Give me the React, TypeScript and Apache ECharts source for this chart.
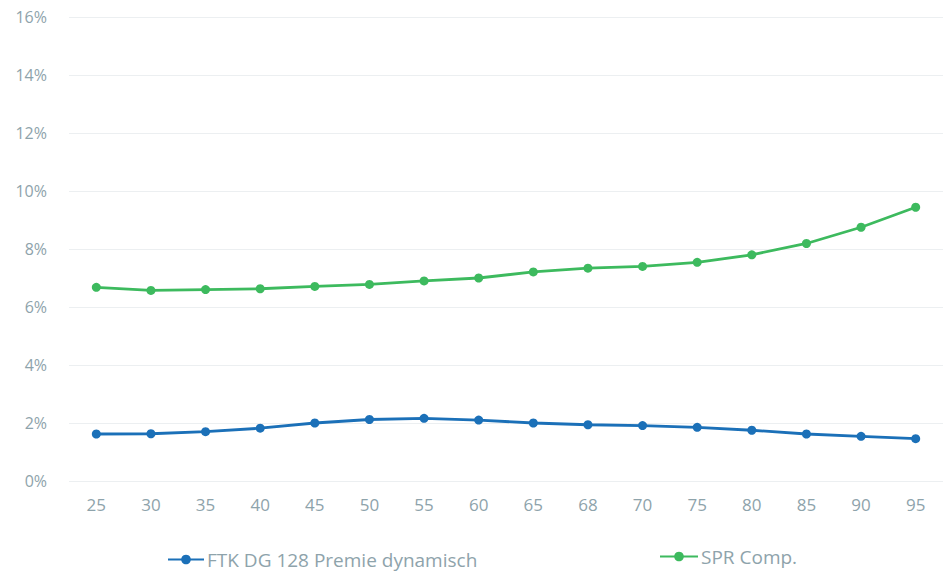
import React, { useEffect, useRef } from "react";
import * as echarts from "echarts";

const ages = ["25", "30", "35", "40", "45", "50", "55", "60", "65", "68", "70", "75", "80", "85", "90", "95"];
const ftkValues = [1.62, 1.63, 1.7, 1.82, 2.0, 2.12, 2.16, 2.1, 2.0, 1.94, 1.91, 1.85, 1.75, 1.62, 1.54, 1.46];
const sprValues = [6.68, 6.57, 6.6, 6.63, 6.71, 6.78, 6.9, 7.0, 7.21, 7.34, 7.4, 7.54, 7.8, 8.19, 8.75, 9.44];
const seriesNames = ["FTK DG 128 Premie dynamisch", "SPR Comp."];

const BLUE = "#1b70b8";
const GREEN = "#3dba5e";
const LABEL = "#8ea3ab";
const FONT = "'Open Sans', Lato, sans-serif";

export default function App() {
  const ref = useRef<HTMLDivElement>(null);

  useEffect(() => {
    if (!ref.current) return;
    const chart = echarts.init(ref.current, undefined, { renderer: "svg" });
    chart.setOption({
      animation: false,
      backgroundColor: "#ffffff",
      textStyle: { fontFamily: FONT },
      grid: { left: 69, top: 17, width: 876, height: 464, containLabel: false },
      legend: [
        {
          data: [seriesNames[0]],
          left: 162,
          top: 545,
          itemWidth: 36,
          itemHeight: 12,
          itemGap: 4,
          textStyle: { color: LABEL, fontSize: 19, fontFamily: FONT, padding: [0, 0, 0, -2] },
        },
        {
          data: [seriesNames[1]],
          left: 654,
          top: 542,
          itemWidth: 38,
          itemHeight: 12,
          textStyle: { color: LABEL, fontSize: 19, fontFamily: FONT, padding: [0, 0, 0, -2] },
        },
      ],
      xAxis: {
        type: "category",
        data: ages,
        boundaryGap: true,
        axisLine: { show: false },
        axisTick: { show: false },
        axisLabel: { color: LABEL, fontSize: 17, margin: 15, fontFamily: FONT },
      },
      yAxis: {
        type: "value",
        min: 0,
        max: 16,
        interval: 2,
        axisLine: { show: false },
        axisTick: { show: false },
        axisLabel: {
          color: LABEL,
          fontSize: 16,
          margin: 22,
          fontFamily: FONT,
          formatter: (v: number) => `${v}%`,
        },
        splitLine: { lineStyle: { color: "#eceff1", width: 1 } },
      },
      series: [
        {
          name: seriesNames[0],
          type: "line",
          data: ftkValues,
          symbol: "circle",
          symbolSize: 9,
          lineStyle: { color: BLUE, width: 2.8 },
          itemStyle: { color: BLUE },
        },
        {
          name: seriesNames[1],
          type: "line",
          data: sprValues,
          symbol: "circle",
          symbolSize: 9,
          lineStyle: { color: GREEN, width: 2.8 },
          itemStyle: { color: GREEN },
        },
      ],
    });
    return () => chart.dispose();
  }, []);

  return (
    <div
      ref={ref}
      style={{ position: "absolute", left: 0, top: 0, width: 943, height: 574, background: "#fff" }}
    />
  );
}
